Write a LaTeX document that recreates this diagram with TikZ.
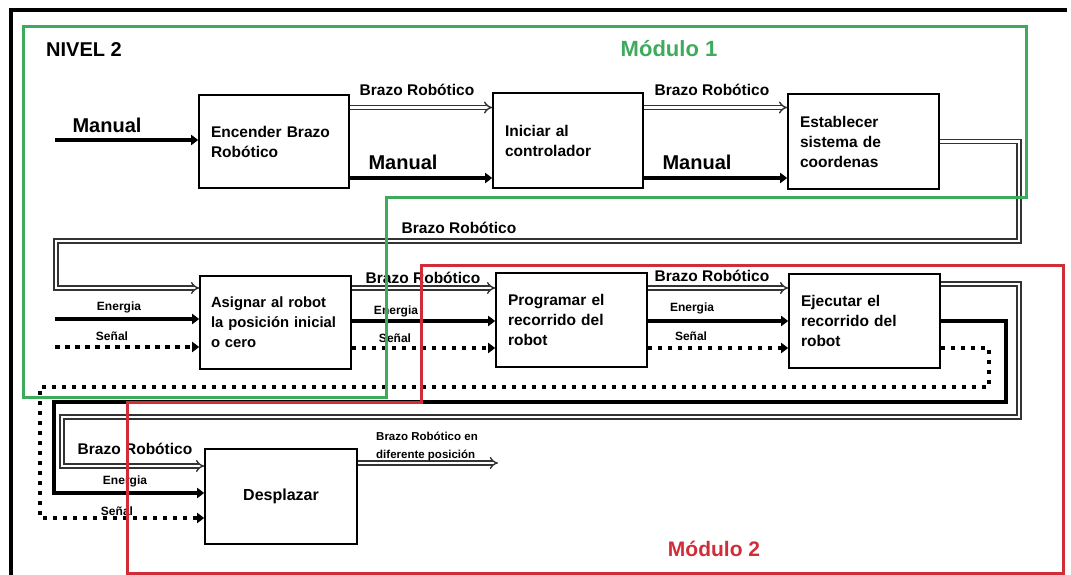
\documentclass[tikz,border=0pt]{standalone}
\usepackage{fontspec}
\setmainfont{Liberation Sans}
\usetikzlibrary{arrows.meta}
\definecolor{modgreen}{RGB}{62,170,92}
\definecolor{modred}{RGB}{208,45,56}
\begin{document}
\begin{tikzpicture}[x=1pt,y=-1pt,
  box/.style={draw, line width=1.6pt, fill=white, align=left, inner xsep=12pt, inner ysep=0pt,
    font=\fontsize{15.5}{20}\selectfont\bfseries},
  dbl/.style={draw=black!80, double=white, double distance=2.6pt, line width=1.4pt,
    line join=miter, -{Implies[scale=1.4]}},
  heavy/.style={line width=3.8pt, line join=miter, -{Triangle[length=7pt,width=10pt]}},
  dotline/.style={line width=3.8pt, dash pattern=on 4.5pt off 5.5pt, line join=miter,
    -{Triangle[length=7pt,width=10pt]}},
  lbl/.style={font=\fontsize{15.5}{18}\selectfont\bfseries, inner sep=0pt},
  big/.style={font=\fontsize{20}{24}\selectfont\bfseries, inner sep=0pt},
  small/.style={font=\fontsize{12}{14}\selectfont\bfseries, inner sep=0pt},
  modline/.style={line width=3pt, line join=miter},
  modlabel/.style={font=\fontsize{21}{24}\selectfont\bfseries, inner sep=0pt},
]
\useasboundingbox (0,0) rectangle (1071,575);

% outer frame
\draw[line width=4pt] (11,575) -- (11,10.5) -- (1067,10.5);

\node[font=\fontsize{20}{24}\selectfont\bfseries, inner sep=0pt] (nivel) at (84,49.5) {NIVEL 2};

% process blocks
\node[box, minimum width=150, minimum height=93, text width=126] (enc) at (274,141.5)
  {Encender Brazo\\Robótico};
\node[box, minimum width=150, minimum height=95, text width=126] (ini) at (568,140.5)
  {Iniciar al\\controlador};
\node[box, minimum width=151, minimum height=95, text width=127] (est) at (863.5,141.5)
  {Establecer\\sistema de\\coordenas};
\node[box, minimum width=151, minimum height=93, text width=129, inner xsep=11pt,
  font=\fontsize{14.8}{20}\selectfont\bfseries] (asig) at (275.5,322.5)
  {Asignar al robot\\la posición inicial\\o cero};
\node[box, minimum width=151, minimum height=94, text width=127] (prog) at (571.5,320)
  {Programar el\\recorrido del\\robot};
\node[box, minimum width=151, minimum height=94, text width=127] (ejec) at (864.5,321)
  {Ejecutar el\\recorrido del\\robot};
\node[box, align=center, minimum width=152, minimum height=95, text width=128,
  font=\fontsize{16}{20}\selectfont\bfseries] (desp) at (281,496.5) {Desplazar};

% horizontal levels
\coordinate (L107) at (0,107.5);
\coordinate (L178) at (0,178);
\coordinate (L288) at (0,288);
\coordinate (L321) at (0,321);
\coordinate (L348) at (0,348);
\coordinate (L284) at (0,284);

% row 1
\coordinate (inMan) at (55,140);
\draw[heavy] (inMan) -- (inMan -| enc.west);
\node[big] (lman0) at (107,125) {Manual};

\draw[dbl] (enc.east |- L107) -- (ini.west |- L107);
\node[lbl] (lbr1) at (417,89.5) {Brazo Robótico};
\draw[heavy] (enc.east |- L178) -- (ini.west |- L178);
\node[big] (lman1) at (403,162) {Manual};

\draw[dbl] (ini.east |- L107) -- (est.west |- L107);
\node[lbl] (lbr2) at (712,89.5) {Brazo Robótico};
\draw[heavy] (ini.east |- L178) -- (est.west |- L178);
\node[big] (lman2) at (697,162) {Manual};

% feedback from the coordinate system block to row 2
\coordinate (k1) at (1019,241);
\coordinate (k2) at (56,288);
\draw[dbl] (est.east) -| (k1) -| (k2) -- (k2 -| asig.west);
\node[lbl] (lbr3) at (459,228) {Brazo Robótico};

% row 2 inputs
\coordinate (inE) at (55,319);
\coordinate (inS) at (55,347);
\draw[heavy] (inE) -- (inE -| asig.west);
\node[small] (len1) at (119,307) {Energia};
\draw[dotline] (inS) -- (inS -| asig.west);
\node[small] (lse1) at (112,336) {Señal};

\draw[dbl] (asig.east |- L288) -- (prog.west |- L288);
\node[lbl] (lbr4) at (423,277.5) {Brazo Robótico};
\draw[heavy] (asig.east |- L321) -- (prog.west |- L321);
\node[small] (len2) at (396,311) {Energia};
\draw[dotline] (asig.east |- L348) -- (prog.west |- L348);
\node[small] (lse2) at (395,338) {Señal};

\draw[dbl] (prog.east |- L288) -- (ejec.west |- L288);
\node[lbl] (lbr5) at (712,276) {Brazo Robótico};
\draw[heavy] (prog.east |- L321) -- (ejec.west |- L321);
\node[small] (len3) at (692,308) {Energia};
\draw[dotline] (prog.east |- L348) -- (ejec.west |- L348);
\node[small] (lse3) at (691,336) {Señal};

% loops from the execution block to row 3
\coordinate (d1) at (1019,417);
\coordinate (d2) at (62,466);
\draw[dbl] (ejec.east |- L284) -| (d1) -| (d2) -- (d2 -| desp.west);
\node[lbl] (lbr6) at (135,449) {Brazo Robótico};

\coordinate (h1) at (1006,402);
\coordinate (h2) at (54,493);
\draw[heavy] (ejec.east |- L321) -| (h1) -| (h2) -- (h2 -| desp.west);
\node[small] (len4) at (125,481) {Energia};

\coordinate (s1) at (989,387);
\coordinate (s2) at (40,518);
\draw[dotline] (ejec.east |- L348) -| (s1) -| (s2) -- (s2 -| desp.west);
\node[small] (lse4) at (117,511) {Señal};

% final output
\coordinate (out) at (498,463);
\draw[dbl] (desp.east |- out) -- (out);
\node[small, align=left, anchor=west, font=\fontsize{11.5}{18}\selectfont\bfseries] (lout) at (376,446)
  {Brazo Robótico en\\diferente posición};

% module outlines
\draw[modline, draw=modgreen] (23,27) -- (1026,27) -- (1026,197) -- (386,197) -- (386,397) -- (23,397) -- cycle;
\node[modlabel, text=modgreen, font=\fontsize{22}{24}\selectfont\bfseries] (mod1) at (669,49) {Módulo 1};
\draw[modline, draw=modred] (421,265) -- (1063,265) -- (1063,573) -- (127,573) -- (127,402) -- (421,402) -- cycle;
\node[modlabel, text=modred] (mod2) at (714,549) {Módulo 2};
\end{tikzpicture}
\end{document}
